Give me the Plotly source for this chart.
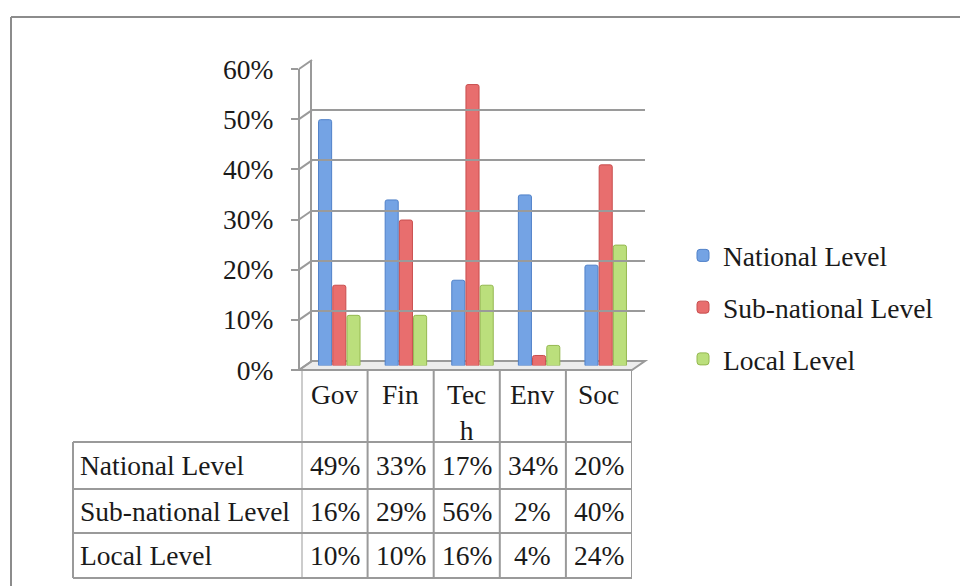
import plotly.graph_objects as go

# ---------------- data ----------------
categories = ["Gov", "Fin", "Tech", "Env", "Soc"]
header_labels = ["Gov", "Fin", "Tec<br>h", "Env", "Soc"]
series_names = ["National Level", "Sub-national Level", "Local Level"]
national = [49, 33, 17, 34, 20]
subnational = [16, 29, 56, 2, 40]
local = [10, 10, 16, 4, 24]
y_ticks = [0, 10, 20, 30, 40, 50, 60]

series_values = [national, subnational, local]

# ---------------- styles / geometry ----------------
W, H = 960, 586
FONT = "Liberation Serif"
FS = 27.5
GRID = "#9a9a9a"
TXT = "#1a1a1a"
colors = ["#74A3E4", "#E86E6E", "#BBDF7C"]
edges = ["#4F80C8", "#C84E4E", "#94B850"]


def px(x):
    return x / W


def py(y):
    return 1 - y / H


Y_MAX = 60
# front (tick) scale, mid (bars) scale, back (wall) scale in pixels
FRONT0, FRONT_TOP = 370, 69
MID0, MID_TOP = 365.5, 64.5
BACK0, BACK_TOP = 361, 60
AX_X = 299
WALL_X0, WALL_X1 = 312, 645
FRONT_X1 = 632

fig = go.Figure()

for name, vals, c, e in zip(series_names, series_values, colors, edges):
    fig.add_trace(go.Bar(
        x=categories, y=vals, name=name,
        marker=dict(color=c, line=dict(color=e, width=1), cornerradius=2),
        legendgroup=name, xaxis="x", yaxis="y",
        hoverinfo="skip",
    ))

# hidden helper traces so that the tick axis / table axis and wall axis exist
fig.add_trace(go.Scatter(x=categories, y=national, xaxis="x2", yaxis="y2",
                         mode="markers", marker=dict(opacity=0),
                         showlegend=False, hoverinfo="skip"))
fig.add_trace(go.Scatter(x=categories, y=national, xaxis="x3", yaxis="y3",
                         mode="markers", marker=dict(opacity=0),
                         showlegend=False, hoverinfo="skip"))

shapes = []
# outer frame (top and left)
shapes.append(dict(type="line", xref="paper", yref="paper",
                   x0=px(11), y0=py(17), x1=1.0, y1=py(17),
                   line=dict(color="#8c8c8c", width=2)))
shapes.append(dict(type="line", xref="paper", yref="paper",
                   x0=px(11), y0=py(17), x1=px(11), y1=0,
                   line=dict(color="#8c8c8c", width=2)))

# floor
shapes.append(dict(type="path", xref="paper", yref="paper",
                   path=(f"M{px(AX_X)},{py(FRONT0)} L{px(FRONT_X1)},{py(FRONT0)} "
                         f"L{px(WALL_X1)},{py(BACK0)} L{px(WALL_X0)},{py(BACK0)} Z"),
                   fillcolor="#ececec", line=dict(color=GRID, width=2), layer="below"))

# diagonal connectors from front ticks to back wall gridlines
for t in y_ticks:
    yf = FRONT0 - t / Y_MAX * (FRONT0 - FRONT_TOP)
    yb = BACK0 - t / Y_MAX * (BACK0 - BACK_TOP)
    shapes.append(dict(type="line", xref="paper", yref="paper",
                       x0=px(AX_X), y0=py(yf), x1=px(WALL_X0), y1=py(yb),
                       line=dict(color=GRID, width=2), layer="below"))

# data table lines
TABLE_X0 = 73
HEADER_TOP = 370
row_edges = [442, 489, 533, 578]
for yr in row_edges:
    shapes.append(dict(type="line", xref="paper", yref="paper",
                       x0=px(TABLE_X0), y0=py(yr), x1=px(FRONT_X1), y1=py(yr),
                       line=dict(color=GRID, width=2)))
for i in range(len(categories) + 1):
    shapes.append(dict(type="line", xref="x2", yref="paper",
                       x0=i - 0.5, y0=py(HEADER_TOP), x1=i - 0.5, y1=py(row_edges[-1]),
                       line=dict(color=GRID, width=2)))
shapes.append(dict(type="line", xref="paper", yref="paper",
                   x0=px(TABLE_X0), y0=py(row_edges[0]), x1=px(TABLE_X0), y1=py(row_edges[-1]),
                   line=dict(color=GRID, width=2)))

annotations = []
for cat, lab in zip(categories, header_labels):
    annotations.append(dict(x=cat, xref="x2", y=py(377), yref="paper",
                            text=lab, showarrow=False, xanchor="center", yanchor="top",
                            font=dict(family=FONT, size=FS, color=TXT)))
for r, (name, vals) in enumerate(zip(series_names, series_values)):
    yc = (row_edges[r] + row_edges[r + 1]) / 2
    annotations.append(dict(x=px(78), xref="paper", y=py(yc), yref="paper",
                            text=name, showarrow=False, xanchor="left", yanchor="middle",
                            font=dict(family=FONT, size=FS, color=TXT)))
    for cat, v in zip(categories, vals):
        annotations.append(dict(x=cat, xref="x2", y=py(yc), yref="paper",
                                text=f"{v}%", showarrow=False, xanchor="center",
                                yanchor="middle",
                                font=dict(family=FONT, size=FS, color=TXT)))

hidden_axis = dict(showticklabels=False, showgrid=False, zeroline=False,
                   showline=False, ticks="", automargin=False)

fig.update_layout(
    width=W, height=H,
    margin=dict(l=0, r=0, t=0, b=0, pad=0, autoexpand=False),
    paper_bgcolor="white", plot_bgcolor="rgba(0,0,0,0)",
    font=dict(family=FONT, size=FS, color=TXT),
    barmode="group", bargap=0.36, bargroupgap=0.08,
    showlegend=True,
    legend=dict(x=px(683), y=py(231), xanchor="left", yanchor="top",
                font=dict(family=FONT, size=FS, color=TXT),
                tracegroupgap=13, bgcolor="rgba(0,0,0,0)"),
    xaxis=dict(domain=[px(306), px(639)], range=[-0.5, 4.5], anchor="y", **hidden_axis),
    yaxis=dict(domain=[py(MID0), py(MID_TOP)], range=[0, Y_MAX], anchor="x", **hidden_axis),
    xaxis2=dict(domain=[px(301.5), px(FRONT_X1)], range=[-0.5, 4.5], anchor="y2",
                **hidden_axis),
    yaxis2=dict(domain=[py(FRONT0), py(FRONT_TOP)], range=[0, Y_MAX], anchor="free",
                position=px(AX_X), tickmode="array", tickvals=y_ticks,
                ticktext=[f"{t}%" for t in y_ticks], automargin=False,
                showgrid=False, zeroline=False, showline=True, linecolor=GRID, linewidth=2,
                ticks="outside", ticklen=7, tickwidth=2, tickcolor=GRID,
                ticklabelstandoff=12,
                tickfont=dict(family=FONT, size=FS, color=TXT)),
    xaxis3=dict(domain=[px(WALL_X0), px(WALL_X1)], range=[-0.5, 4.5], anchor="y3",
                **hidden_axis),
    yaxis3=dict(domain=[py(BACK0), py(BACK_TOP)], range=[0, Y_MAX], anchor="x3",
                tickmode="array", tickvals=y_ticks, showticklabels=False, showgrid=True,
                gridcolor=GRID, gridwidth=2, zeroline=False, showline=True,
                linecolor=GRID, linewidth=2, ticks="", automargin=False),
    shapes=shapes,
    annotations=annotations,
)

fig.write_html("out.html")
